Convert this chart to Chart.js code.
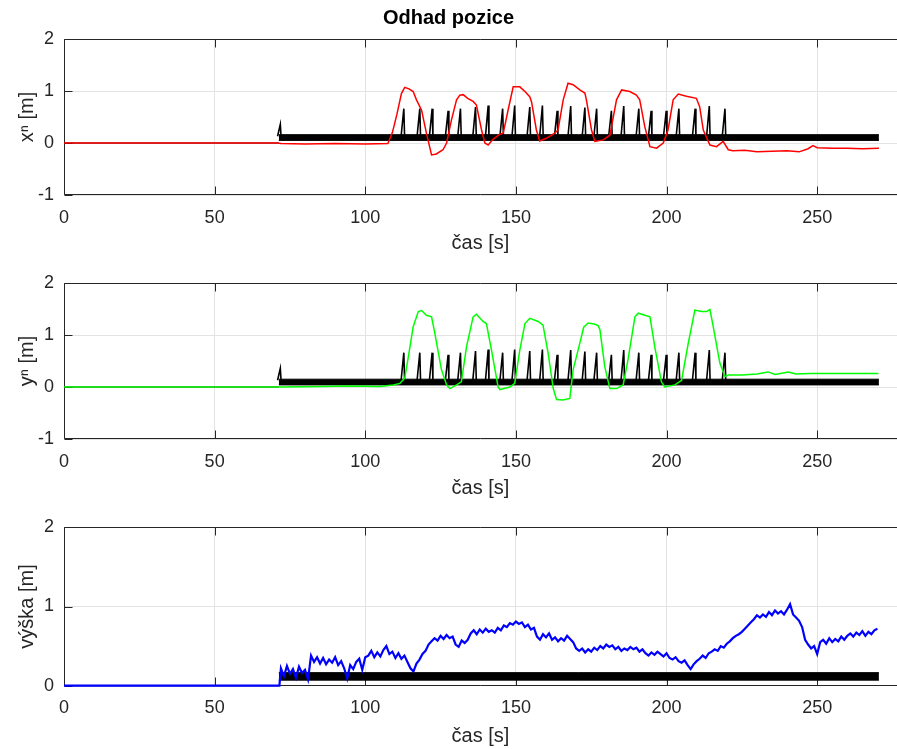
<!DOCTYPE html>
<html>
<head>
<meta charset="utf-8">
<script src="https://cdn.jsdelivr.net/npm/chart.js@4.4.1/dist/chart.umd.min.js"></script>
<style>
html, body { margin: 0; padding: 0; background: #fff; }
#wrap { position: relative; width: 897px; height: 749px; overflow: hidden; }
canvas { position: absolute; left: 0; }
</style>
</head>
<body>
<div id="wrap">
  <canvas id="c1" width="897" height="255" style="top:0px"></canvas>
  <canvas id="c2" width="897" height="245" style="top:255px"></canvas>
  <canvas id="c3" width="897" height="249" style="top:500px"></canvas>
</div>
<script>
// --- data ---
// x estimate (red)
var xTimes = [0, 71, 72, 80, 90, 100, 107.5, 109, 110.5, 112, 113.1, 114.5, 115.9, 117, 118.7, 120.3, 122, 123.6, 125.8, 127,
  128.6, 130.3, 131.4, 132.5, 134, 135.8, 136.9, 138.6, 139.7, 140.8, 142.4, 144.7, 145.8, 147.4, 149.1, 151.3, 153, 154.6, 155.2, 156.8,
  157.9, 160.1, 162.9, 164, 165.7, 167.3, 169, 171.2, 172.9, 173.4, 175.1, 176.2, 179, 181.2, 183.4, 185.1, 187.8, 190, 191.1, 192.8,
  194.5, 196.7, 198.9, 200.5, 202.2, 203.9, 206.6, 209.9, 211, 212.2, 214.4, 216.6, 218.8, 220.5, 222, 226, 230, 235, 240, 244,
  247, 248.6, 250, 255, 260, 265, 270.5];
var xValues = [0, 0, -0.01, -0.02, -0.01, -0.02, -0.01, 0.2, 0.55, 0.95, 1.07, 1.04, 0.99, 0.83, 0.63, 0.19, -0.23, -0.21, -0.13, 0,
  0.44, 0.83, 0.92, 0.93, 0.86, 0.8, 0.73, 0.25, 0, -0.04, 0.07, 0.17, 0.19, 0.63, 1.08, 1.08, 0.99, 0.89, 0.79, 0.25,
  0.04, 0.09, 0.19, 0.25, 0.83, 1.15, 1.12, 1.02, 0.96, 0.83, 0.25, 0.03, 0.06, 0.15, 0.83, 1.02, 0.99, 0.92, 0.83, 0.31,
  -0.07, -0.1, 0, 0.25, 0.83, 0.94, 0.9, 0.86, 0.7, 0.25, -0.04, -0.07, 0.03, -0.13, -0.15, -0.14, -0.17, -0.16, -0.15, -0.17,
  -0.11, -0.05, -0.09, -0.1, -0.1, -0.11, -0.1];

// y estimate (green)
var yTimes = [0, 71, 72, 85, 95, 104.8, 109.3, 111.5, 113.1, 114.5, 115.9, 117.6, 118.7, 120.3, 122, 123.1, 125.3, 127, 128.1, 130.3,
  131.9, 133.6, 135.8, 136.9, 139.1, 140.2, 141.9, 144.1, 144.7, 148, 149.6, 151.3, 153, 154.6, 157.4, 159, 160.7, 162.4, 163.5, 165.7,
  167.9, 169, 171.2, 172.5, 174, 176, 177.3, 177.9, 179.5, 181.2, 183.4, 185.6, 187.2, 189.5, 190.6, 192.8, 194.5, 196.1, 198.3, 199.4,
  202.8, 205, 207.2, 209.4, 211.6, 213.3, 214.4, 215.5, 217.7, 219.4, 220.5, 225, 230, 233.7, 236, 240.4, 243, 247.6, 255, 262, 270.3];
var yValues = [0, 0, 0, 0.01, 0.02, 0.01, 0.04, 0.07, 0.17, 0.65, 1.16, 1.45, 1.47, 1.38, 1.35, 1.03, 0.33, 0.04, -0.03, 0.04,
  0.1, 0.77, 1.35, 1.4, 1.26, 1.22, 0.71, 0, -0.05, 0, 0.07, 0.71, 1.22, 1.32, 1.26, 1.19, 0.65, -0.03, -0.24, -0.25,
  -0.22, 0.33, 0.84, 1.15, 1.23, 1.21, 1.18, 1.1, 0.39, -0.03, -0.03, 0.04, 0.52, 1.35, 1.42, 1.38, 1.35, 0.77, 0.1, 0,
  0.04, 0.13, 0.84, 1.48, 1.45, 1.45, 1.49, 1.16, 0.46, 0.2, 0.23, 0.23, 0.25, 0.29, 0.24, 0.29, 0.25, 0.26, 0.26, 0.26, 0.26];

// height (blue): flat zero, then one sample per second from heightStart
var heightLeadTimes = [0, 71.5];
var heightLead = [0, 0];
var heightStart = 72;
var heightValues = [
  0.22, 0.12, 0.25, 0.15, 0.21, 0.10, 0.24, 0.16, 0.20, 0.08,
  0.38, 0.30, 0.36, 0.28, 0.35, 0.27, 0.33, 0.29, 0.36, 0.26,
  0.31, 0.22, 0.09, 0.26, 0.21, 0.30, 0.34, 0.20, 0.36, 0.38,
  0.44, 0.36, 0.42, 0.37, 0.45, 0.50, 0.40, 0.43, 0.35, 0.41,
  0.34, 0.38, 0.30, 0.22, 0.18, 0.28, 0.33, 0.40, 0.44, 0.52,
  0.56, 0.60, 0.57, 0.63, 0.59, 0.64, 0.60, 0.62, 0.52, 0.49,
  0.57, 0.54, 0.58, 0.66, 0.70, 0.65, 0.71, 0.67, 0.72, 0.68,
  0.70, 0.67, 0.73, 0.70, 0.76, 0.74, 0.79, 0.77, 0.81, 0.78,
  0.80, 0.74, 0.77, 0.71, 0.73, 0.62, 0.58, 0.65, 0.61, 0.66,
  0.58, 0.61, 0.56, 0.60, 0.57, 0.63, 0.59, 0.55, 0.47, 0.44,
  0.47, 0.42, 0.46, 0.43, 0.48, 0.45, 0.50, 0.47, 0.52, 0.49,
  0.51, 0.46, 0.49, 0.44, 0.47, 0.45, 0.49, 0.46, 0.48, 0.43,
  0.46, 0.41, 0.38, 0.42, 0.39, 0.43, 0.40, 0.37, 0.41, 0.35,
  0.33, 0.36, 0.31, 0.29, 0.32, 0.26, 0.21, 0.27, 0.31, 0.34,
  0.38, 0.35, 0.41, 0.43, 0.46, 0.44, 0.50, 0.48, 0.53, 0.56,
  0.60, 0.63, 0.65, 0.68, 0.72, 0.76, 0.80, 0.84, 0.89, 0.86,
  0.90, 0.87, 0.93, 0.89, 0.95, 0.91, 0.94, 0.90, 0.96, 1.03,
  0.90, 0.86, 0.82, 0.74, 0.58, 0.52, 0.47, 0.50, 0.40, 0.55,
  0.58, 0.53, 0.60, 0.55, 0.59, 0.56, 0.62, 0.58, 0.63, 0.66,
  0.62, 0.67, 0.64, 0.69, 0.63, 0.68, 0.65, 0.70, 0.72];

// black measurement: dense band plus spikes
var bandTimes = [71.3, 270.5];
var bandLow = [0.05, 0.04, 0.07];
var bandHigh = [0.16, 0.15, 0.165];
var zeroTimes = [0, 71.3];
var spikeTimes = [71.8, 112.8, 118.1, 122.2, 127.5, 131.6, 136.6, 140.8, 145.6, 149.6, 154.6, 158.8, 163.7, 168.2,
  172.9, 176.8, 181.7, 185.8, 190.8, 194.9, 199.9, 204.1, 209.5, 214.2, 219.4];
var spikePeaks = [0.36, 0.66, 0.66, 0.66, 0.62, 0.66, 0.69, 0.72, 0.66, 0.72, 0.69, 0.72, 0.62, 0.71,
  0.68, 0.66, 0.62, 0.71, 0.66, 0.62, 0.62, 0.66, 0.66, 0.71, 0.66];

var xTicks = [0, 50, 100, 150, 200, 250];

function pts(ts, vs) { return ts.map(function (t, i) { return { x: t, y: vs[i] }; }); }

var heightPts = pts(heightLeadTimes, heightLead).concat(
  heightValues.map(function (v, i) { return { x: heightStart + i, y: v }; }));

var spikePts = [];
spikeTimes.forEach(function (t, i) {
  spikePts.push({ x: t - 0.9, y: 0.13 });
  spikePts.push({ x: t, y: spikePeaks[i] });
  spikePts.push({ x: t + 0.25, y: 0.13 });
  spikePts.push({ x: t + 0.3, y: null });
});

Chart.defaults.font.family = '"Liberation Sans", Arial, sans-serif';
Chart.defaults.color = '#262626';

// MATLAB-like box and inward tick marks
var axesBox = {
  id: 'axesBox',
  beforeDatasetsDraw: function (chart) {
    var ctx = chart.ctx, a = chart.chartArea, sx = chart.scales.x, sy = chart.scales.y;
    var L = Math.round(a.left) + 0.5, R = Math.round(a.right), T = Math.round(a.top) + 0.5, B = Math.round(a.bottom) - 0.5;
    ctx.save();
    ctx.strokeStyle = '#262626';
    ctx.lineWidth = 1;
    ctx.beginPath();
    ctx.moveTo(R, T); ctx.lineTo(L, T); ctx.lineTo(L, B); ctx.lineTo(R, B);
    sx.ticks.forEach(function (tk) {
      var px = Math.round(sx.getPixelForValue(tk.value)) + 0.5;
      ctx.moveTo(px, B); ctx.lineTo(px, B - 8);
      ctx.moveTo(px, T); ctx.lineTo(px, T + 8);
    });
    sy.ticks.forEach(function (tk) {
      var py = Math.round(sy.getPixelForValue(tk.value)) + 0.5;
      ctx.moveTo(L, py); ctx.lineTo(L + 8, py);
    });
    ctx.stroke();
    ctx.restore();
  }
};

function makePlot(id, o) {
  var ds = [];
  ds.push({ data: o.main, borderColor: o.color, borderWidth: o.lw });
  ds.push({ data: pts(zeroTimes, [0, 0]), borderColor: '#000', borderWidth: 1.2 });
  ds.push({ data: pts(bandTimes, [bandLow[o.k], bandLow[o.k]]), borderColor: '#000', borderWidth: 1 });
  ds.push({ data: pts(bandTimes, [bandHigh[o.k], bandHigh[o.k]]), borderColor: '#000', borderWidth: 1,
    backgroundColor: '#000', fill: 2 });
  if (o.spikes) ds.push({ data: spikePts, borderColor: '#000', borderWidth: 1.6, spanGaps: false });

  return new Chart(document.getElementById(id), {
    type: 'line',
    data: { datasets: ds },
    options: {
      responsive: false,
      animation: false,
      devicePixelRatio: 1,
      elements: { point: { radius: 0 }, line: { tension: 0, fill: false } },
      datasets: { line: { clip: 3 } },
      layout: { padding: { top: o.padTop, left: 0, right: 0, bottom: 0 } },
      plugins: {
        legend: { display: false },
        tooltip: { enabled: false },
        title: o.title ? { display: true, text: o.title, color: '#000',
          font: { size: 20, weight: 'bold' }, padding: { top: 6, bottom: 9 } } : { display: false }
      },
      scales: {
        x: {
          type: 'linear', min: 0, max: 276.5,
          afterBuildTicks: function (s) { s.ticks = xTicks.map(function (v) { return { value: v }; }); },
          ticks: { padding: 12, font: { size: 18 }, maxRotation: 0, autoSkip: false },
          grid: { color: '#e3e3e3', drawTicks: false },
          border: { display: false },
          title: { display: true, text: 'čas [s]', font: { size: 20 }, padding: { top: 0, bottom: o.xtPad } },
          afterFit: function (s) { s.height = o.xh; }
        },
        y: {
          min: o.ymin, max: 2,
          ticks: { stepSize: 1, padding: 10, font: { size: 18 } },
          grid: { color: '#e3e3e3', drawTicks: false },
          border: { display: false },
          title: { display: true, text: o.ylabel, font: { size: 20 }, padding: { top: 15, bottom: 0 } },
          afterFit: function (s) { s.width = 64; }
        }
      }
    },
    plugins: [axesBox]
  });
}

makePlot('c1', { k: 0, main: pts(xTimes, xValues), color: '#ff0000', lw: 1.5, spikes: true, ymin: -1,
  ylabel: 'xⁿ [m]', title: 'Odhad pozice', padTop: 0, xh: 60, xtPad: 0 });
makePlot('c2', { k: 1, main: pts(yTimes, yValues), color: '#00ff00', lw: 1.5, spikes: true, ymin: -1,
  ylabel: 'yⁿ [m]', padTop: 28, xh: 61, xtPad: 0 });
makePlot('c3', { k: 2, main: heightPts, color: '#0000ff', lw: 2.2, spikes: false, ymin: 0,
  ylabel: 'výška [m]', padTop: 27.3, xh: 63.3, xtPad: 1 });
</script>
</body>
</html>
